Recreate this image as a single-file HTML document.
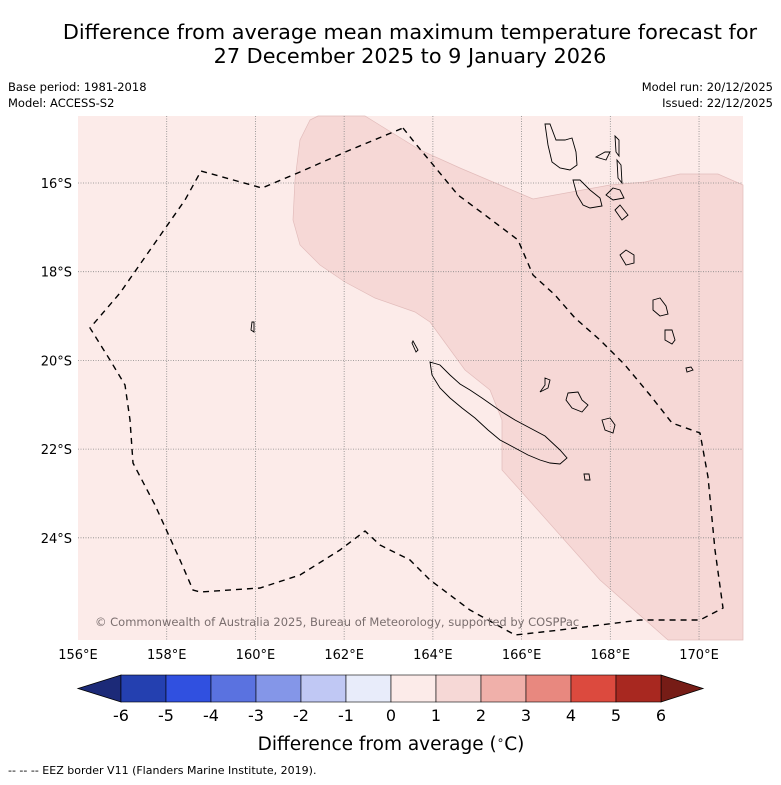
<!DOCTYPE html>
<html><head><meta charset="utf-8"><style>
body{margin:0;background:#fff;font-family:"DejaVu Sans","Liberation Sans",sans-serif;}
svg text{font-family:"DejaVu Sans","Liberation Sans",sans-serif;}
</style></head><body>
<svg width="781" height="781" viewBox="0 0 781 781">
<text x="410" y="39" text-anchor="middle" font-size="20.8">Difference from average mean maximum temperature forecast for</text>
<text x="410" y="63" text-anchor="middle" font-size="20.8">27 December 2025 to 9 January 2026</text>
<text x="8" y="91" font-size="11.5">Base period: 1981-2018</text>
<text x="8" y="107" font-size="11.5">Model: ACCESS-S2</text>
<text x="773" y="91" font-size="11.5" text-anchor="end">Model run: 20/12/2025</text>
<text x="773" y="107" font-size="11.5" text-anchor="end">Issued: 22/12/2025</text>
<g id="map">
<rect x="78" y="116" width="665" height="524" fill="#fcebe9"/>
<path fill="#f6d8d6" stroke="#e2bcbb" stroke-width="0.7" d="M310,120 L318,116 L365,116 L420,150 L460,168 L533,199 L610,185 L645,182 L680,174 L718,174 L743,185 L743,640 L668,640 L600,580 L520,490 L502,470 L502,420 L490,390 L465,370 L430,322 L415,312 L375,298 L345,282 L320,265 L300,245 L293,220 L295,180 L300,140 Z"/>
<g id="grid" stroke="#888" stroke-width="0.8" stroke-dasharray="1,1.5"></g>
<path fill="none" stroke="#000" stroke-width="1.4" stroke-dasharray="6,5" d="M403,128 L415,143 L458,195 L485,215 L518,240 L533,275 L555,295 L575,318 L600,340 L625,365 L650,395 L672,423 L700,433 L708,477 L715,550 L723,608 L700,620 L670,620 L640,620 L600,625 L560,630 L515,635 L470,610 L430,580 L410,560 L380,545 L365,531 L340,550 L300,575 L260,588 L200,592 L193,590 L180,560 L155,505 L133,463 L130,420 L125,385 L110,360 L90,328 L120,293 L150,250 L185,200 L201,171 L262,188 L300,172 L350,150 L403,128"/>
<g fill="none" stroke="#000" stroke-width="0.9">
<path d="M430,362 L440,365 L450,375 L460,384 L470,390 L482,398 L492,405 L502,412 L515,420 L530,428 L545,436 L560,450 L567,458 L560,464 L550,463 L540,460 L528,455 L515,448 L500,440 L488,430 L475,418 L462,408 L450,398 L440,388 L432,375 Z"/>
<path d="M413,341 L418,350 L416,352 L412,343 Z"/>
<path d="M545,124 L550,124 L556,140 L565,140 L572,138 L576,152 L577,165 L570,170 L560,168 L552,162 L548,145 Z"/>
<path d="M573,180 L580,180 L590,190 L600,198 L602,206 L590,208 L583,205 L577,195 Z"/>
<path d="M596,157 L605,152 L610,152 L606,160 Z"/>
<path d="M615,136 L619,140 L619,156 L616,152 Z"/>
<path d="M617,160 L621,165 L622,183 L618,178 Z"/>
<path d="M606,195 L613,188 L620,190 L624,198 L613,200 Z"/>
<path d="M615,210 L620,205 L628,215 L622,220 Z"/>
<path d="M620,255 L626,250 L634,255 L634,263 L626,265 Z"/>
<path d="M653,300 L660,298 L666,306 L668,314 L660,316 L653,310 Z"/>
<path d="M665,330 L672,330 L675,340 L672,344 L665,340 Z"/>
<path d="M545,378 L550,380 L548,388 L540,392 L545,385 Z"/>
<path d="M568,393 L578,392 L582,400 L588,405 L582,412 L572,408 L566,400 Z"/>
<path d="M602,420 L610,418 L615,425 L613,433 L605,430 Z"/>
<path d="M686,368 L691,367 L693,370 L687,372 Z"/>
<path d="M584,474 L589,474 L590,480 L585,480 Z"/>
<path d="M252,322 L254,322 L254,332 L251,330 Z"/>
</g>
</g>
<text x="95" y="626" font-size="11.5" fill="#7a6e6e">© Commonwealth of Australia 2025, Bureau of Meteorology, supported by COSPPac</text>
<g id="axes"></g>
<g id="cbar"></g>
<text x="391" y="750" text-anchor="middle" font-size="18.5">Difference from average (<tspan font-size="12" dy="-6">∘</tspan><tspan dy="6">C)</tspan></text>
<text x="8" y="774" font-size="11">--  --  -- EEZ border V11 (Flanders Marine Institute, 2019).</text>
</svg>
<script>
const lonTicks=[156,158,160,162,164,166,168,170];
const latTicks=[16,18,20,22,24];
const levels=[-6,-5,-4,-3,-2,-1,0,1,2,3,4,5,6];
const levelColors=["#2440b0","#3050e0","#5a72e0","#8496e8","#c0c8f4","#e8ecfa","#fcebe9","#f6d8d6","#f0b0aa","#e8887f","#dc4a3e","#a82820"];
const NS="http://www.w3.org/2000/svg";
const lonX=l=>78+(l-156)*44.36, latY=l=>183+(l-16)*44.35;
function mk(t,a,p){const e=document.createElementNS(NS,t);for(const k in a)e.setAttribute(k,a[k]);p.appendChild(e);return e;}
const grid=document.getElementById('grid'),axes=document.getElementById('axes'),cb=document.getElementById('cbar');
lonTicks.forEach(l=>{
 if(l>156){const g=mk('line',{x1:lonX(l),x2:lonX(l),y1:116,y2:640},grid);
 
 }
 const t=mk('text',{x:lonX(l),y:659,'text-anchor':'middle','font-size':13},axes);t.textContent=l+'°E';
 
 
});
latTicks.forEach(l=>{
 const g=mk('line',{x1:78,x2:743,y1:latY(l),y2:latY(l)},grid);
 
 
 const t=mk('text',{x:72,y:latY(l)+5,'text-anchor':'end','font-size':13},axes);t.textContent=l+'°S';
 
 
});
const cx=v=>121+(v+6)*45, y0=675,y1=702;
const lt=mk('polygon',{points:`78,${(y0+y1)/2} ${cx(-6)},${y0} ${cx(-6)},${y1}`,fill:'#1c2a78',stroke:'#000','stroke-width':0.8},cb);


const rt=mk('polygon',{points:`703,${(y0+y1)/2} ${cx(6)},${y0} ${cx(6)},${y1}`,fill:'#761c16',stroke:'#000','stroke-width':0.8},cb);


levelColors.forEach((c,i)=>{
 const r=mk('rect',{x:cx(levels[i]),y:y0,width:cx(levels[i+1])-cx(levels[i]),height:y1-y0,fill:c,stroke:'#000','stroke-width':0.6},cb);
 
 
});
levels.forEach(v=>{
 const t=mk('text',{x:cx(v),y:721,'text-anchor':'middle','font-size':16},cb);t.textContent=v;
 
 
});
</script>
</body></html>
